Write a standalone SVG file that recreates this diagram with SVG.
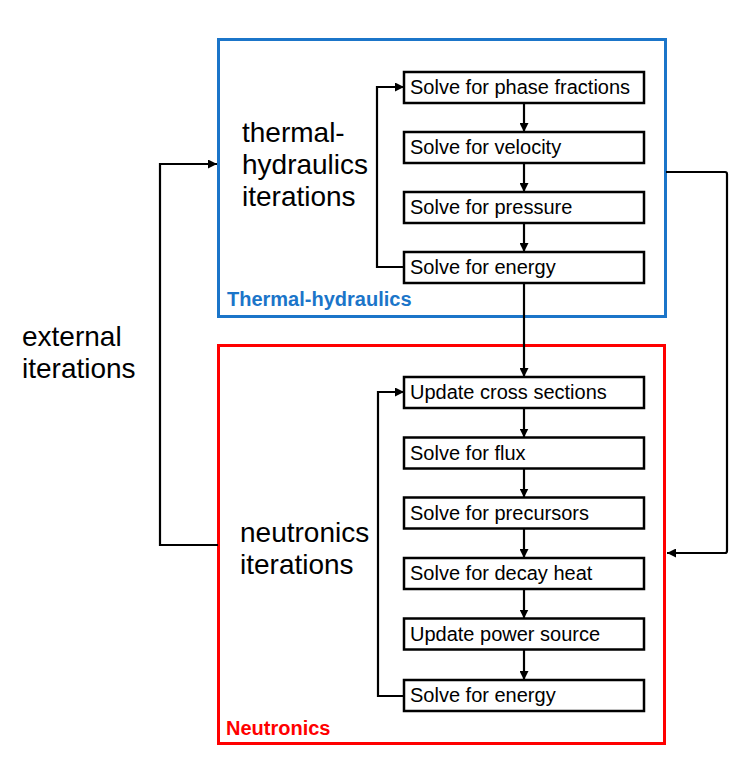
<svg xmlns="http://www.w3.org/2000/svg" width="753" height="766" viewBox="0 0 753 766">
<defs>
<marker id="ah" viewBox="0 0 10 10" refX="10" refY="5" markerWidth="9" markerHeight="9" markerUnits="userSpaceOnUse" orient="auto">
<path d="M0,0 L10,5 L0,10 z" fill="#000"/>
</marker>
<style>
.node rect{fill:#fff;stroke:#000;stroke-width:2.5}
.node text{font-family:"Liberation Sans",Arial,sans-serif;font-size:20px;fill:#000}
.big{font-family:"Liberation Sans",Arial,sans-serif;font-size:28px;fill:#000}
.lbl{font-family:"Liberation Sans",Arial,sans-serif;font-size:20px;font-weight:bold}
.conn path{fill:none;stroke:#000;stroke-width:2.2;marker-end:url(#ah)}
</style>
</defs>
<rect width="753" height="766" fill="#fff"/>
<g id="thermal-hydraulics">
<rect x="218.5" y="39.5" width="447" height="277" fill="none" stroke="#1b75c9" stroke-width="3"/>
<text class="lbl" x="227" y="306" fill="#1b75c9">Thermal-hydraulics</text>
</g>
<g id="neutronics">
<rect x="218.5" y="345.5" width="446" height="398" fill="none" stroke="#ff0000" stroke-width="3"/>
<text class="lbl" x="226" y="735" fill="#ff0000">Neutronics</text>
</g>
<g id="th-label"><text class="big" x="242" y="142">thermal-</text><text class="big" x="242" y="174">hydraulics</text><text class="big" x="242" y="206">iterations</text></g>
<g id="n-label"><text class="big" x="240" y="542">neutronics</text><text class="big" x="240" y="574">iterations</text></g>
<g id="ext-label"><text class="big" x="22" y="346">external</text><text class="big" x="22" y="378">iterations</text></g>
<g id="conns" class="conn">
<path d="M524,103 V132"/>
<path d="M524,163 V192"/>
<path d="M524,223 V252"/>
<path d="M404,267 H377 V87 H404"/>
<path d="M524,283 V377"/>
<path d="M524,408 V437.5"/>
<path d="M524,468.5 V497.5"/>
<path d="M524,528.5 V558"/>
<path d="M524,589 V618.5"/>
<path d="M524,649.5 V680"/>
<path d="M404,696 H378 V392 H404"/>
<path d="M218,545 H160 V164 H217"/>
<path d="M666,172 H725 Q727,172 727,174 V551 Q727,553 725,553 H667"/>
</g>
<g id="n1" class="node"><rect x="404" y="72" width="240" height="31"/><text x="410" y="94">Solve for phase fractions</text></g>
<g id="n2" class="node"><rect x="404" y="132" width="240" height="31"/><text x="410" y="154">Solve for velocity</text></g>
<g id="n3" class="node"><rect x="404" y="192" width="240" height="31"/><text x="410" y="214">Solve for pressure</text></g>
<g id="n4" class="node"><rect x="404" y="252" width="240" height="31"/><text x="410" y="274">Solve for energy</text></g>
<g id="n5" class="node"><rect x="404" y="377" width="240" height="31"/><text x="410" y="399">Update cross sections</text></g>
<g id="n6" class="node"><rect x="404" y="437.5" width="240" height="31"/><text x="410" y="459.5">Solve for flux</text></g>
<g id="n7" class="node"><rect x="404" y="497.5" width="240" height="31"/><text x="410" y="519.5">Solve for precursors</text></g>
<g id="n8" class="node"><rect x="404" y="558" width="240" height="31"/><text x="410" y="580">Solve for decay heat</text></g>
<g id="n9" class="node"><rect x="404" y="618.5" width="240" height="31"/><text x="410" y="640.5">Update power source</text></g>
<g id="n10" class="node"><rect x="404" y="680" width="240" height="31"/><text x="410" y="702">Solve for energy</text></g>
</svg>
